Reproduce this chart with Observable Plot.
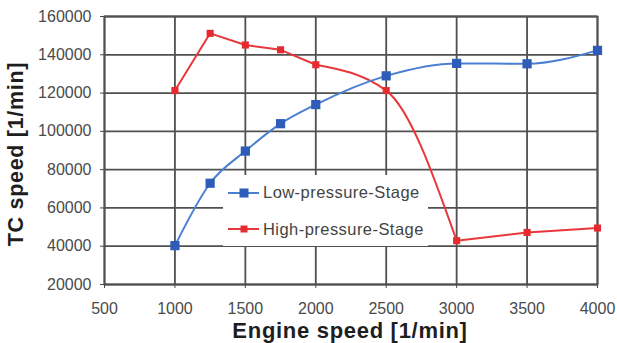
<!DOCTYPE html>
<html>
<head>
<meta charset="utf-8">
<script src="https://cdn.jsdelivr.net/npm/d3@7"></script>
<script src="https://cdn.jsdelivr.net/npm/@observablehq/plot@0.6"></script>
<style>
  html, body { margin: 0; padding: 0; background: #fff; }
  #wrap { position: relative; width: 617px; height: 343px; overflow: hidden; font-family: "Liberation Sans", Arial, sans-serif; }
  .title { position: absolute; font-weight: bold; color: #1e1e1e; white-space: nowrap; line-height: 1; }
  #legend { position: absolute; left: 223px; top: 175px; width: 205px; height: 71px; background: #fff; }
  .row { position: absolute; left: 0; height: 20px; display: flex; align-items: center; font-size: 16.5px; letter-spacing: 0.45px; color: #444; }
  .row svg { margin-left: 4px; margin-right: 3px; }
</style>
</head>
<body>
<div id="wrap"></div>
<script>
const engineSpeed = [1000, 1250, 1500, 1750, 2000, 2500, 3000, 3500, 4000];
const lowPressure = [40300, 72900, 89700, 104000, 114000, 129000, 135500, 135300, 142300];
const highPressure = [121300, 151200, 145100, 142600, 134800, 121300, 42900, 47200, 49500];
const xTicks = [500, 1000, 1500, 2000, 2500, 3000, 3500, 4000];
const yTicks = [20000, 40000, 60000, 80000, 100000, 120000, 140000, 160000];
const seriesNames = ["Low-pressure-Stage", "High-pressure-Stage"];
const xTitle = "Engine speed [1/min]";
const yTitle = "TC speed [1/min]";

const blueLine = "#4a7fd2", blueDot = "#2d5db8";
const redLine = "#e8383c", redDot = "#e52a30";
const gridColor = "#505050";

const low = engineSpeed.map((x, i) => ({x, y: lowPressure[i]}));
const high = engineSpeed.map((x, i) => ({x, y: highPressure[i]}));
// the high-pressure line is straight except for the smoothed drop between 2000 and 3000
const highA = high.filter(d => d.x <= 2000);
const highB = high.filter(d => d.x >= 2000 && d.x <= 3000);
const highC = high.filter(d => d.x >= 3000);

const chart = Plot.plot({
  width: 617, height: 343,
  marginLeft: 104, marginRight: 20, marginTop: 16, marginBottom: 59,
  x: {domain: [500, 4000]},
  y: {domain: [20000, 160000]},
  style: {fontFamily: "'Liberation Sans', Arial, sans-serif", fontSize: "16px", color: "#4a4a4a", background: "white"},
  marks: [
    Plot.gridX(xTicks, {stroke: gridColor, strokeOpacity: 1, strokeWidth: 1.8}),
    Plot.gridY(yTicks, {stroke: gridColor, strokeOpacity: 1, strokeWidth: 1.8}),
    Plot.frame({stroke: gridColor, strokeWidth: 1.8}),
    Plot.axisX(xTicks, {tickSize: 4, tickPadding: 14, label: null, tickFormat: "d"}),
    Plot.axisY(yTicks, {tickSize: 4, tickPadding: 9, label: null, tickFormat: "d"}),
    Plot.line(highA, {x: "x", y: "y", curve: "linear", stroke: redLine, strokeWidth: 2}),
    Plot.line(highB, {x: "x", y: "y", curve: "monotone-x", stroke: redLine, strokeWidth: 2}),
    Plot.line(highC, {x: "x", y: "y", curve: "linear", stroke: redLine, strokeWidth: 2}),
    Plot.line(low, {x: "x", y: "y", curve: "monotone-x", stroke: blueLine, strokeWidth: 2}),
    Plot.dot(high, {x: "x", y: "y", symbol: "square", r: 4, fill: redDot, stroke: "none"}),
    Plot.dot(low, {x: "x", y: "y", symbol: "square", r: 5.2, fill: blueDot, stroke: "none"})
  ]
});

const wrap = document.getElementById("wrap");
wrap.appendChild(chart);

// Legend
const legend = document.createElement("div");
legend.id = "legend";
const legendItems = [
  {name: seriesNames[0], line: blueLine, dot: blueDot, size: 9, top: 7.5},
  {name: seriesNames[1], line: redLine, dot: redDot, size: 7, top: 44}
];
for (const it of legendItems) {
  const row = document.createElement("div");
  row.className = "row";
  row.style.top = it.top + "px";
  row.innerHTML = `<svg width="33" height="12"><line x1="1" x2="32" y1="6" y2="6" stroke="${it.line}" stroke-width="2"/><rect x="${17 - it.size/2}" y="${6 - it.size/2}" width="${it.size}" height="${it.size}" fill="${it.dot}"/></svg><span>${it.name}</span>`;
  legend.appendChild(row);
}
wrap.appendChild(legend);

// Axis titles
const xt = document.createElement("div");
xt.className = "title";
xt.textContent = xTitle;
xt.style.fontSize = "22px";
xt.style.letterSpacing = "0.7px";
xt.style.left = "350px";
xt.style.top = "320px";
xt.style.transform = "translateX(-50%)";
wrap.appendChild(xt);

const yt = document.createElement("div");
yt.className = "title";
yt.textContent = yTitle;
yt.style.fontSize = "21.5px";
yt.style.letterSpacing = "0.7px";
yt.style.left = "16.5px";
yt.style.top = "154px";
yt.style.transform = "translate(-50%, -50%) rotate(-90deg)";
wrap.appendChild(yt);
</script>
</body>
</html>
